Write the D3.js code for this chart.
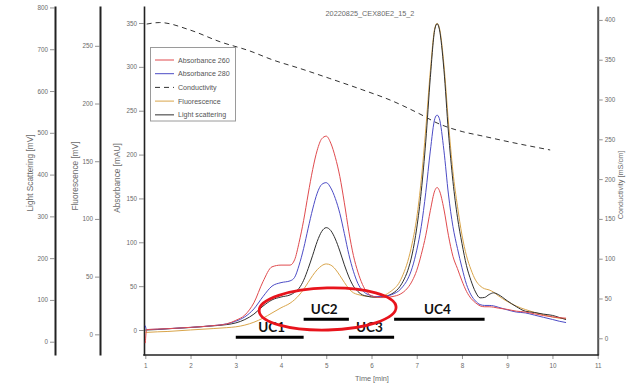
<!DOCTYPE html>
<html><head><meta charset="utf-8">
<script src="https://cdn.jsdelivr.net/npm/d3@7"></script>
<style>
body{margin:0;background:#fff;}
svg text{font-family:"Liberation Sans",Arial,sans-serif;}
</style></head><body>
<svg id="chart" width="641" height="385"></svg>
<script>
// Run time [min] shared by the four detector traces
const time = [1.0,1.03,1.5,2.0,2.5,2.8,3.0,3.2,3.4,3.6,
  3.8,4.0,4.2,4.3,4.4,4.5,4.6,4.7,4.8,4.9,
  5.0,5.1,5.2,5.3,5.4,5.5,5.6,5.7,5.8,5.9,
  6.0,6.1,6.2,6.3,6.4,6.5,6.6,6.7,6.8,6.9,
  7.0,7.1,7.2,7.3,7.4,7.45,7.5,7.6,7.7,7.8,
  7.9,8.0,8.1,8.2,8.3,8.4,8.5,8.6,8.7,8.8,
  9.0,9.2,9.4,9.6,9.8,10.0,10.15,10.3];

// Absorbance 260 nm [mAU]
const abs260 = [-15,0.5,1.5,3,5,7,11,17,31,55,
  72,74,74,80,100,125,155,183,205,218,
  221,213,197,175,145,112,85,66,52,43,
  39,37.5,37,37,37.5,38.5,40,43,48,56,
  68,86,108,136,159,162.5,159,138,108,84,
  70,56,44,36,31,27.5,26.5,26.5,26,25,
  23.5,21.5,20.5,18.5,16.5,15,14,13.5];

// Absorbance 280 nm [mAU]
const abs280 = [5,0.5,1.5,3,5,7,10,15,24,38,
  50,54,56,60,74,93,116,138,156,166,
  168,162,150,133,110,86,67,53,45,41,
  39,38,38,38.5,39.5,41.5,44.5,50,58,71,
  91,118,157,204,241,245,241,205,155,118,
  93,71,52,40,33,29,28,28,27.5,26,
  23,20.5,19.5,17,14.5,12,10,8.5];

// Light scattering [mV]
const lightScattering = [28,28,31,34,38,41,45,53,66,85,
  100,107,112,118,128,147,175,207,240,264,
  273,266,246,217,184,155,133,120,112,109,
  107,106.5,107,108,112,118,128,145,170,210,
  272,360,480,632,748,761,748,652,502,384,
  298,235,182,146,119,105,106,113,117,113,
  98,84,73,70,66,63,58,53];

// Fluorescence [mV]
const fluorescence = [1.5,1.7,2.5,3.8,5,5.8,6.5,8,10.5,14,
  18.5,23,27,30,34,39,45,51,56,59.5,
  61,60,56.5,51,45,39.5,36,34.5,33.5,33,
  32.5,32.3,32.5,34,36.5,39.5,44,52,63,79,
  101,134,178,228,265.5,269.5,265.7,234,184,141,
  111,86,68,56,47,42,39.5,38.5,36.5,33.5,
  28.5,24.5,21.5,19,17,15,14,13.5];

// Conductivity [mS/cm]
const condTime = [1.03,1.32,1.99,2.65,3.31,3.82,4.42,5.08,5.81,6.41,7.07,7.45,8.02,8.40,9.06,9.95];
const conductivity = [394.8,396.7,387.3,372.6,361,349.7,339,326.4,312,299.4,281.8,270.5,259.5,254.8,246.6,236.6];

// Axis ticks
const xTicks = [1,2,3,4,5,6,7,8,9,10,11];
const absTicks = [0,50,100,150,200,250,300,350];
const flTicks = [0,50,100,150,200,250];
const lsTicks = [0,100,200,300,400,500,600,700,800];
const condTicks = [0,50,100,150,200,250,300,350,400];

// Collection windows (time range, drawn level in mAU)
const ucLabels = ["UC1","UC2","UC3","UC4"];
const ucStart = [3.0,4.5,5.5,6.5];
const ucEnd = [4.5,5.5,6.5,8.5];
const ucLevel = [-8.3,12.2,-8.3,12.2];

const runTitle = "20220825_CEX80E2_15_2";
const legendLabels = ["Absorbance 260","Absorbance 280","Conductivity","Fluorescence","Light scattering"];

const svg = d3.select("#chart");
const TOP = 6, BOTTOM = 355;
const x = d3.scaleLinear().domain([1,11]).range([145.3,597.7]);
const yAbs = d3.scaleLinear().domain([-28.5,369.4]).range([BOTTOM,TOP]);
const yFl = d3.scaleLinear().domain([-17.9,284.5]).range([BOTTOM,TOP]);
const yLS = d3.scaleLinear().domain([-31.8,803.5]).range([BOTTOM,TOP]);
const yCond = d3.scaleLinear().domain([-21.0,417.5]).range([BOTTOM,TOP]);

const tickColor = "#6a6a6a";
function styleAxis(g, domainColor, domainWidth) {
  g.attr("font-size", null).attr("font-family", null);
  g.select(".domain").attr("stroke", domainColor).attr("stroke-width", domainWidth);
  g.selectAll(".tick line").attr("stroke", "#777").attr("stroke-width", 0.8);
  g.selectAll(".tick text").attr("fill", tickColor).attr("font-size", 6.3);
}

// Left axes
svg.append("g").attr("transform","translate(55,0)")
  .call(d3.axisLeft(yLS).tickValues(lsTicks).tickSize(5).tickSizeOuter(0).tickPadding(2))
  .call(g => styleAxis(g, "#222", 2));
svg.append("g").attr("transform","translate(100,0)")
  .call(d3.axisLeft(yFl).tickValues(flTicks).tickSize(5).tickSizeOuter(0).tickPadding(2))
  .call(g => styleAxis(g, "#222", 2));
svg.append("g").attr("transform","translate(144,0)")
  .call(d3.axisLeft(yAbs).tickValues(absTicks).tickSize(5).tickSizeOuter(0).tickPadding(2))
  .call(g => styleAxis(g, "#222", 1.6));
// Right axis
svg.append("g").attr("transform","translate(597.7,0)")
  .call(d3.axisRight(yCond).tickValues(condTicks).tickSize(5).tickSizeOuter(0).tickPadding(2))
  .call(g => styleAxis(g, "#555", 2));
// Time axis
const xg = svg.append("g").attr("transform",`translate(0,${BOTTOM})`)
  .call(d3.axisBottom(x).tickValues(xTicks).tickSize(4).tickSizeOuter(0).tickPadding(5))
  .call(g => styleAxis(g, "#222", 1.6));
xg.select(".domain").remove();
svg.append("line").attr("x1",143.2).attr("x2",598.7).attr("y1",BOTTOM).attr("y2",BOTTOM)
  .attr("stroke","#222").attr("stroke-width",1.6);

// Axis titles
const titleStyle = (size) => t => t.attr("fill", tickColor).attr("font-size", size).attr("text-anchor","middle");
svg.append("text").attr("transform","translate(32.5,173) rotate(-90)").text("Light Scattering [mV]").call(titleStyle(8.3));
svg.append("text").attr("transform","translate(78,176) rotate(-90)").text("Fluorescence [mV]").call(titleStyle(8.3));
svg.append("text").attr("transform","translate(120,178) rotate(-90)").text("Absorbance [mAU]").call(titleStyle(8.3));
svg.append("text").attr("transform","translate(623,185) rotate(-90)").text("Conductivity [mS/cm]").call(titleStyle(7.3));
svg.append("text").attr("x",372).attr("y",381).text("Time [min]").call(titleStyle(7.3));
svg.append("text").attr("x",370).attr("y",16).text(runTitle).call(titleStyle(7.3));

// Traces
const colors = {a260:"#e04b4e", a280:"#4c4cc6", cond:"#333", fl:"#d9a54a", ls:"#2f2f2f"};
const lineOf = (ys) => d3.line().x((d,i) => x(time[i])).y(d => ys(d)).curve(d3.curveMonotoneX);

svg.append("path").datum(conductivity)
  .attr("d", d3.line().x((d,i) => x(condTime[i])).y(d => yCond(d)).curve(d3.curveMonotoneX))
  .attr("fill","none").attr("stroke",colors.cond).attr("stroke-width",1).attr("stroke-dasharray","5,4");
svg.append("path").datum(fluorescence).attr("d", lineOf(yFl))
  .attr("fill","none").attr("stroke",colors.fl).attr("stroke-width",1);
svg.append("path").datum(lightScattering).attr("d", lineOf(yLS))
  .attr("fill","none").attr("stroke",colors.ls).attr("stroke-width",1);
svg.append("path").datum(abs280).attr("d", lineOf(yAbs))
  .attr("fill","none").attr("stroke",colors.a280).attr("stroke-width",1);
svg.append("path").datum(abs260).attr("d", lineOf(yAbs))
  .attr("fill","none").attr("stroke",colors.a260).attr("stroke-width",1);

// Legend
const lg = svg.append("g");
lg.append("rect").attr("x",150.5).attr("y",47.5).attr("width",85).attr("height",73.5)
  .attr("fill","#fff").attr("stroke","#9a9a9a").attr("stroke-width",1);
const legendColors = [colors.a260, colors.a280, colors.cond, colors.fl, "#6a6a6a"];
legendLabels.forEach((lab,i) => {
  const yy = 60 + i*13.7;
  lg.append("line").attr("x1",155).attr("x2",174).attr("y1",yy).attr("y2",yy)
    .attr("stroke",legendColors[i]).attr("stroke-width", i===4 ? 1.4 : 1)
    .attr("stroke-dasharray", i===2 ? "5,4" : null);
  lg.append("text").attr("x",178).attr("y",yy+2.5).text(lab)
    .attr("fill","#555").attr("font-size",7.1);
});

// Collection windows
ucLabels.forEach((lab,i) => {
  const x0 = x(ucStart[i]), x1 = x(ucEnd[i]), yy = yAbs(ucLevel[i]);
  svg.append("line").attr("x1",x0).attr("x2",x1).attr("y1",yy).attr("y2",yy)
    .attr("stroke","#000").attr("stroke-width",3);
  svg.append("text").attr("x",(x0+x1)/2 + (i===0?2:-2)).attr("y",yy-5.5).text(lab)
    .attr("text-anchor","middle").attr("font-size",13.5).attr("font-weight","bold")
    .attr("fill","#111").style("font-family","Lato, 'Open Sans', sans-serif");
});

// Highlight ring around UC2
const ringCenter = [5.03, 24], ringHalfWidth = 1.514, ringHalfHeight = 24;
svg.append("ellipse")
  .attr("cx", x(ringCenter[0])).attr("cy", yAbs(ringCenter[1]))
  .attr("rx", x(ringCenter[0]+ringHalfWidth) - x(ringCenter[0]))
  .attr("ry", yAbs(ringCenter[1]-ringHalfHeight) - yAbs(ringCenter[1]))
  .attr("transform", `rotate(-1.5 ${x(ringCenter[0])} ${yAbs(ringCenter[1])})`)
  .attr("fill","none").attr("stroke","#e8141c").attr("stroke-width",2.8);
</script></body></html>
